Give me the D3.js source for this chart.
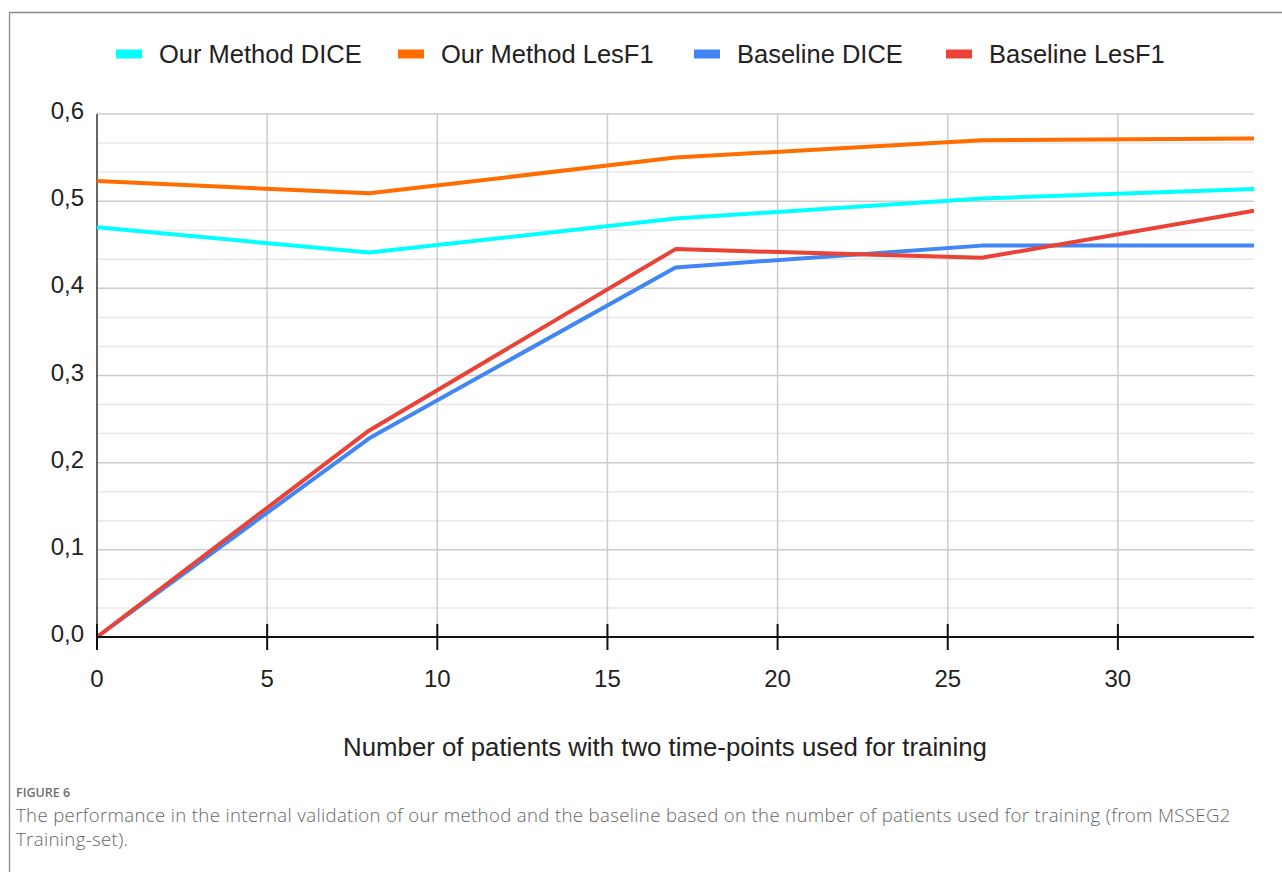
<!DOCTYPE html>
<html>
<head>
<meta charset="utf-8">
<script src="https://cdn.jsdelivr.net/npm/d3@7"></script>
<style>
  body { margin: 0; background: #fff; }
</style>
</head>
<body>
<svg id="chart" width="1282" height="872"></svg>
<script>
// data
const patients = [0, 8, 17, 26, 34];
const ourDice = [0.47, 0.441, 0.48, 0.503, 0.514];
const ourLesF1 = [0.523, 0.509, 0.55, 0.57, 0.572];
const baseDice = [0.0, 0.228, 0.424, 0.449, 0.449];
const baseLesF1 = [0.0, 0.237, 0.445, 0.435, 0.489];
const seriesNames = ['Our Method DICE', 'Our Method LesF1', 'Baseline DICE', 'Baseline LesF1'];
const seriesColors = ['#00ffff', '#ff6d01', '#4285f4', '#ea4335'];
const xTicks = [0, 5, 10, 15, 20, 25, 30];
const yTicks = [0, 0.1, 0.2, 0.3, 0.4, 0.5, 0.6];

const chartFont = '"Liberation Sans", Arial, sans-serif';
const captionFont = '"Open Sans", sans-serif';

const svg = d3.select('#chart');

// outer frame
svg.append('path')
    .attr('d', 'M9.5,872 V12.5 H1282')
    .attr('fill', 'none')
    .attr('stroke', '#8a8a8a')
    .attr('stroke-width', 1.3);

const x = d3.scaleLinear().domain([0, 34]).range([97, 1254]);
const y = d3.scaleLinear().domain([0, 0.6]).range([637, 114]);

// minor gridlines (two between each major)
const minor = d3.range(0, 18).map(i => i / 30).filter((v, i) => i % 3 !== 0);
svg.append('g').selectAll('line').data(minor).enter().append('line')
    .attr('x1', x(0)).attr('x2', x(34))
    .attr('y1', d => y(d)).attr('y2', d => y(d))
    .attr('stroke', '#e8e8e8').attr('stroke-width', 1.5);

// major gridlines
svg.append('g').selectAll('line').data(yTicks.slice(1)).enter().append('line')
    .attr('x1', x(0)).attr('x2', x(34))
    .attr('y1', d => y(d)).attr('y2', d => y(d))
    .attr('stroke', '#cccccc').attr('stroke-width', 1.5);

svg.append('g').selectAll('line').data(xTicks.slice(1)).enter().append('line')
    .attr('x1', d => x(d)).attr('x2', d => x(d))
    .attr('y1', y(0.6)).attr('y2', y(0))
    .attr('stroke', '#cccccc').attr('stroke-width', 1.5);

// y axis line
svg.append('line')
    .attr('x1', x(0)).attr('x2', x(0))
    .attr('y1', y(0.6)).attr('y2', y(0))
    .attr('stroke', '#333').attr('stroke-width', 1.5);

// y labels
svg.append('g').selectAll('text').data(yTicks).enter().append('text')
    .attr('x', 84).attr('y', d => y(d) + 5)
    .attr('text-anchor', 'end')
    .style('font-family', chartFont)
    .style('font-size', '24px')
    .attr('fill', '#222')
    .text(d => d3.format('.1f')(d).replace('.', ','));

// lines
const seriesData = [ourDice, ourLesF1, baseDice, baseLesF1];
const line = d3.line()
    .x((d, i) => x(patients[i]))
    .y(d => y(d));

svg.append('g').selectAll('path').data(seriesData).enter().append('path')
    .attr('d', line)
    .attr('fill', 'none')
    .attr('stroke', (d, i) => seriesColors[i])
    .attr('stroke-width', 4)
    .attr('stroke-linejoin', 'round');

// x axis
svg.append('line')
    .attr('x1', x(0)).attr('x2', x(34))
    .attr('y1', y(0)).attr('y2', y(0))
    .attr('stroke', '#111').attr('stroke-width', 2);

svg.append('g').selectAll('line').data(xTicks).enter().append('line')
    .attr('x1', d => x(d)).attr('x2', d => x(d))
    .attr('y1', y(0) - 13).attr('y2', y(0) + 13)
    .attr('stroke', '#111').attr('stroke-width', 2);

svg.append('g').selectAll('text').data(xTicks).enter().append('text')
    .attr('x', d => x(d)).attr('y', 687)
    .attr('text-anchor', 'middle')
    .style('font-family', chartFont)
    .style('font-size', '24px')
    .attr('fill', '#222')
    .text(d => d);

// axis title
svg.append('text')
    .attr('x', 665).attr('y', 756)
    .attr('text-anchor', 'middle')
    .style('font-family', chartFont)
    .style('font-size', '25.8px')
    .attr('fill', '#222')
    .text('Number of patients with two time-points used for training');

// legend
const swatchX = [116, 398, 694, 946];
const legend = svg.append('g').selectAll('g').data(seriesNames).enter().append('g')
    .attr('transform', (d, i) => `translate(${swatchX[i]},54)`);
legend.append('rect')
    .attr('x', 0).attr('y', -4.5).attr('width', 26).attr('height', 9)
    .attr('fill', (d, i) => seriesColors[i]);
legend.append('text')
    .attr('x', 43).attr('y', 9)
    .style('font-family', chartFont)
    .style('font-size', '25.5px')
    .attr('fill', '#222')
    .text(d => d);

// caption
svg.append('text')
    .attr('x', 16).attr('y', 797)
    .style('font-family', captionFont)
    .style('font-size', '12.5px')
    .style('font-weight', 600)
    .attr('fill', '#6f6f6f')
    .text('FIGURE 6');

const captionLines = [
  'The performance in the internal validation of our method and the baseline based on the number of patients used for training (from MSSEG2',
  'Training-set).'
];
svg.append('g').selectAll('text').data(captionLines).enter().append('text')
    .attr('x', 16).attr('y', (d, i) => 822 + i * 24)
    .style('font-family', captionFont)
    .style('font-size', '18.6px')
    .style('letter-spacing', '0.35px')
    .style('font-weight', 300)
    .attr('fill', '#666')
    .text(d => d);
</script>
</body>
</html>
